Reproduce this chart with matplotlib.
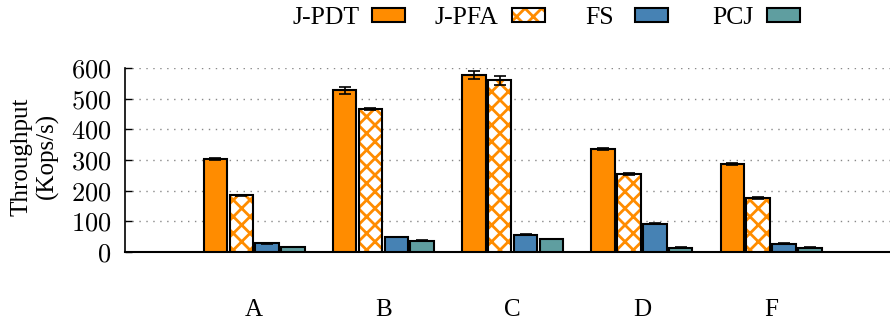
import numpy as np
import matplotlib
matplotlib.use('Agg')
import matplotlib.pyplot as plt
from matplotlib.legend_handler import HandlerTuple

# Data
workloads = ['A', 'B', 'C', 'D', 'F']
series = ['J-PDT', 'J-PFA', 'FS', 'PCJ']
jpdt = [304, 527, 577, 335, 287]
jpdt_err = [3, 11, 13, 3, 2]
jpfa = [185, 466, 560, 253, 176]
jpfa_err = [2, 4, 14, 3, 2]
fs = [28, 49, 57, 92, 27]
fs_err = [1, 1, 1, 2, 1]
pcj = [16, 37, 42, 14, 14]
pcj_err = [1, 1, 1, 1, 1]

orange = '#FF8C00'
blue = '#4682B4'
teal = '#5F9EA0'

plt.rcParams['hatch.linewidth'] = 2.0
plt.rcParams['axes.formatter.use_mathtext'] = True

fig = plt.figure(figsize=(8.9, 3.2), dpi=100)
ax = fig.add_axes([0.1404, 0.2125, 0.8596, 0.575])

x = np.arange(len(workloads))
step = 0.2
w = 0.182
ek = dict(ecolor='black', elinewidth=1.2, capsize=4, capthick=1.2)

b1 = ax.bar(x - 1.5 * step, jpdt, w, yerr=jpdt_err, color=orange,
            edgecolor='black', linewidth=1.5, error_kw=ek, zorder=3)
b2h = ax.bar(x - 0.5 * step, jpfa, w, color='white', edgecolor=orange,
             hatch='xx', linewidth=0, zorder=3)
b2 = ax.bar(x - 0.5 * step, jpfa, w, yerr=jpfa_err, fill=False,
            edgecolor='black', linewidth=1.5, error_kw=ek, zorder=4)
b3 = ax.bar(x + 0.5 * step, fs, w, yerr=fs_err, color=blue,
            edgecolor='black', linewidth=1.5, error_kw=ek, zorder=3)
b4 = ax.bar(x + 1.5 * step, pcj, w, yerr=pcj_err, color=teal,
            edgecolor='black', linewidth=1.5, error_kw=ek, zorder=3)

ax.set_xlim(-1.0, 4.92)
ax.set_ylim(0, 600)
ax.set_yticks(range(0, 601, 100))
ax.set_xticks(x)
ax.set_xticklabels(workloads, fontfamily='Liberation Serif', fontsize=18)
ax.tick_params(axis='x', length=0, pad=34)
ax.tick_params(axis='y', direction='in', length=5, width=1, labelsize=19, pad=10)
for lab in ax.get_yticklabels():
    lab.set_fontfamily('cmr10')

ax.yaxis.grid(True, linestyle=(0, (1, 4)), color='#888888', linewidth=1.0, zorder=0)
ax.set_axisbelow(True)
for s in ['top', 'right']:
    ax.spines[s].set_visible(False)
ax.spines['left'].set_linewidth(1.2)
ax.spines['bottom'].set_linewidth(1.5)

ax.set_ylabel('Throughput\n(Kops/s)', fontfamily='Liberation Serif', fontsize=18,
              linespacing=1.2, va='center')
ax.yaxis.set_label_coords(-0.118, 0.52)

# gnuplot-style key: text then sample, one entry per column
handles = [b1, (b2h, b2), b3, b4]
key_right = [405, 545, 668, 800]   # px, right edge of each sample
key_pad = [0.48, 0.52, 0.8, 0.52]
for h, name, xr, pad in zip(handles, series, key_right, key_pad):
    fig.legend([h], [name], loc='center right', bbox_to_anchor=(xr / 890, 0.943),
               frameon=False, markerfirst=False, handlelength=1.3, handleheight=0.5,
               handletextpad=pad, borderpad=0, borderaxespad=0,
               prop={'family': 'Liberation Serif', 'size': 18.5},
               handler_map={tuple: HandlerTuple(ndivide=1, pad=0)})

fig.savefig('out.png', dpi=100)
